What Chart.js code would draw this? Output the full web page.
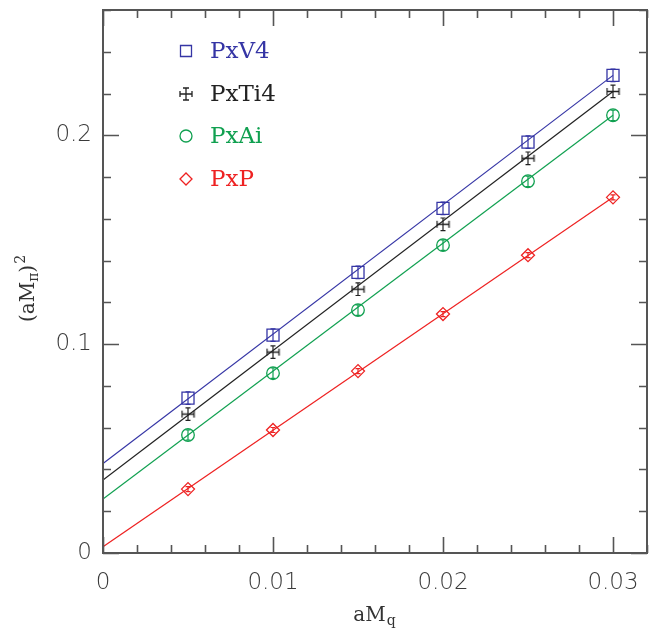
<!DOCTYPE html>
<html>
<head>
<meta charset="utf-8">
<script src="https://cdn.jsdelivr.net/npm/chart.js@4.4.1/dist/chart.umd.min.js"></script>
<style>
  html, body { margin: 0; padding: 0; background: #fff; }
</style>
</head>
<body>
<canvas id="chart" width="652" height="631"></canvas>
<script>
// data
const xValues = [0.005, 0.01, 0.015, 0.02, 0.025, 0.03];
const pxV4 = [0.0742, 0.1043, 0.1344, 0.1650, 0.1967, 0.2287];
const pxTi4 = [0.0665, 0.0962, 0.1263, 0.1574, 0.1890, 0.2210];
const pxAi = [0.0565, 0.0861, 0.1163, 0.1474, 0.1780, 0.2096];
const pxP = [0.0306, 0.0589, 0.0871, 0.1144, 0.1426, 0.1703];
const errV4 = [0.003, 0.003, 0.003, 0.003, 0.003, 0.003];
const errTi4 = [0.003, 0.003, 0.003, 0.003, 0.003, 0.003];
const errAi = [0.0025, 0.0025, 0.0025, 0.0025, 0.0025, 0.0025];
const errP = [0.0012, 0.0012, 0.0012, 0.0012, 0.0012, 0.0012];
// fitted lines: value at x=0 and at x=0.03
const fitX = [0, 0.03];
const fitV4 = [0.0428, 0.2287];
const fitTi4 = [0.0350, 0.2210];
const fitAi = [0.0258, 0.2096];
const fitP = [0.0030, 0.1703];
const seriesNames = ['PxV4', 'PxTi4', 'PxAi', 'PxP'];
const xTicks = [0, 0.01, 0.02, 0.03];
const yTicks = [0, 0.1, 0.2];

const colors = {
    PxV4: '#3535a5',
    PxTi4: '#222222',
    PxAi: '#10a050',
    PxP: '#ee2222'
};

const tickFont = '"DejaVu Sans", sans-serif';
const serifFont = '"DejaVu Serif", serif';

// point style for PxTi4: short horizontal bar with end ticks
function makeTi4Marker() {
    const c = document.createElement('canvas');
    c.width = 15; c.height = 9;
    const g = c.getContext('2d');
    g.strokeStyle = colors.PxTi4;
    g.lineWidth = 1.3;
    g.beginPath();
    g.moveTo(1, 4.5); g.lineTo(14, 4.5);
    g.moveTo(1.5, 1); g.lineTo(1.5, 8);
    g.moveTo(13.5, 1); g.lineTo(13.5, 8);
    g.stroke();
    return c;
}

function pts(ys) {
    return ys.map((y, i) => ({ x: xValues[i], y: y }));
}
function fit(ys) {
    return ys.map((y, i) => ({ x: fitX[i], y: y }));
}

const markerSets = [
    { name: 'PxV4', data: pxV4, err: errV4, style: 'rect', radius: 8.5 },
    { name: 'PxTi4', data: pxTi4, err: errTi4, style: makeTi4Marker(), radius: 7 },
    { name: 'PxAi', data: pxAi, err: errAi, style: 'circle', radius: 6.3 },
    { name: 'PxP', data: pxP, err: errP, style: 'rectRot', radius: 6.5 }
];
const fitSets = [
    { name: 'PxV4', data: fitV4 },
    { name: 'PxTi4', data: fitTi4 },
    { name: 'PxAi', data: fitAi },
    { name: 'PxP', data: fitP }
];

const datasets = [];
fitSets.forEach(s => {
    datasets.push({
        label: s.name + ' fit',
        data: fit(s.data),
        showLine: true,
        borderColor: colors[s.name],
        borderWidth: 1.2,
        pointRadius: 0,
        fill: false
    });
});
markerSets.forEach(s => {
    datasets.push({
        label: s.name,
        data: pts(s.data),
        errors: s.err,
        showLine: false,
        pointStyle: s.style,
        pointRadius: s.radius,
        pointBorderWidth: 1.3,
        borderColor: colors[s.name],
        backgroundColor: 'rgba(0,0,0,0)'
    });
});

// vertical error bars with caps
const errorBarsPlugin = {
    id: 'errorBars',
    afterDatasetsDraw(chart) {
        const ctx = chart.ctx;
        const ys = chart.scales.y;
        chart.data.datasets.forEach((ds, di) => {
            if (!ds.errors) return;
            const meta = chart.getDatasetMeta(di);
            ctx.save();
            ctx.strokeStyle = ds.borderColor;
            ctx.lineWidth = 1.2;
            meta.data.forEach((el, i) => {
                const v = ds.data[i].y;
                const top = ys.getPixelForValue(v + ds.errors[i]);
                const bot = ys.getPixelForValue(v - ds.errors[i]);
                ctx.beginPath();
                ctx.moveTo(el.x, top); ctx.lineTo(el.x, bot);
                ctx.moveTo(el.x - 2.5, top); ctx.lineTo(el.x + 2.5, top);
                ctx.moveTo(el.x - 2.5, bot); ctx.lineTo(el.x + 2.5, bot);
                ctx.stroke();
            });
            ctx.restore();
        });
    }
};

// frame with inward ticks on all four sides
const framePlugin = {
    id: 'frame',
    afterDraw(chart) {
        const ctx = chart.ctx;
        const a = chart.chartArea;
        const xs = chart.scales.x, ys = chart.scales.y;
        ctx.save();
        ctx.strokeStyle = '#555';
        ctx.lineWidth = 1.6;
        ctx.beginPath();
        for (let i = 0; i <= 16; i++) {
            const v = i * 0.002;
            const px = Math.round(xs.getPixelForValue(v)) + 0.5;
            const len = (i % 5 === 0) ? 16 : 8;
            ctx.moveTo(px, a.bottom); ctx.lineTo(px, a.bottom - len);
            ctx.moveTo(px, a.top); ctx.lineTo(px, a.top + len);
        }
        for (let i = 0; i <= 13; i++) {
            const v = i * 0.02;
            const py = Math.round(ys.getPixelForValue(v)) + 0.5;
            const len = (i % 5 === 0) ? 16 : 8;
            ctx.moveTo(a.left, py); ctx.lineTo(a.left + len, py);
            ctx.moveTo(a.right, py); ctx.lineTo(a.right - len, py);
        }
        ctx.stroke();
        ctx.lineWidth = 2;
        ctx.strokeRect(a.left, a.top, a.right - a.left, a.bottom - a.top);
        ctx.restore();
    }
};

// legend inside the plot, plus axis titles with sub/superscripts
const labelsPlugin = {
    id: 'labels',
    afterDraw(chart) {
        const ctx = chart.ctx;
        ctx.save();
        // legend
        const rows = [51, 94, 136, 179];
        const mx = 186, tx = 210;
        ctx.font = '23px ' + serifFont;
        ctx.textBaseline = 'middle';
        seriesNames.forEach((name, i) => {
            const y = rows[i];
            ctx.strokeStyle = colors[name];
            ctx.fillStyle = colors[name];
            ctx.lineWidth = 1.3;
            ctx.beginPath();
            if (name === 'PxV4') {
                ctx.rect(mx - 5.5, y - 5.5, 11, 11);
            } else if (name === 'PxTi4') {
                ctx.moveTo(mx - 6, y); ctx.lineTo(mx + 6, y);
                ctx.moveTo(mx, y - 6); ctx.lineTo(mx, y + 6);
                ctx.moveTo(mx - 6, y - 3); ctx.lineTo(mx - 6, y + 3);
                ctx.moveTo(mx + 6, y - 3); ctx.lineTo(mx + 6, y + 3);
                ctx.moveTo(mx - 3, y - 6); ctx.lineTo(mx + 3, y - 6);
                ctx.moveTo(mx - 3, y + 6); ctx.lineTo(mx + 3, y + 6);
            } else if (name === 'PxAi') {
                ctx.arc(mx, y, 6, 0, Math.PI * 2);
            } else {
                ctx.moveTo(mx - 6, y); ctx.lineTo(mx, y - 6);
                ctx.lineTo(mx + 6, y); ctx.lineTo(mx, y + 6); ctx.closePath();
            }
            ctx.stroke();
            ctx.textAlign = 'left';
            ctx.fillText(name, tx, y + 1);
        });

        // x title: aM_q
        ctx.fillStyle = '#333';
        ctx.textBaseline = 'alphabetic';
        ctx.textAlign = 'left';
        const big = '20px ' + serifFont;
        const small = '14px ' + serifFont;
        ctx.font = big;
        const wM = ctx.measureText('aM').width;
        ctx.font = small;
        const wq = ctx.measureText('q').width;
        let x0 = 374 - (wM + wq) / 2;
        ctx.font = big;
        ctx.fillText('aM', x0, 621);
        ctx.font = small;
        ctx.fillText('q', x0 + wM + 1, 625);

        // y title: (aM_pi)^2, rotated
        ctx.translate(34, 288);
        ctx.rotate(-Math.PI / 2);
        ctx.font = big;
        const w1 = ctx.measureText('(aM').width;
        const w3 = ctx.measureText(')').width;
        ctx.font = small;
        const w2 = ctx.measureText('\u03c0').width;
        const w4 = ctx.measureText('2').width;
        let p = -(w1 + w2 + w3 + w4 + 2) / 2;
        ctx.font = big;
        ctx.fillText('(aM', p, 0); p += w1;
        ctx.font = small;
        ctx.fillText('\u03c0', p, 4); p += w2;
        ctx.font = big;
        ctx.fillText(')', p, 0); p += w3 + 1;
        ctx.font = small;
        ctx.fillText('2', p, -9);
        ctx.restore();
    }
};

function noPad(scale) {
    scale.paddingTop = 0;
    scale.paddingBottom = 0;
    scale.paddingLeft = 0;
    scale.paddingRight = 0;
}

new Chart(document.getElementById('chart').getContext('2d'), {
    type: 'scatter',
    data: { datasets: datasets },
    options: {
        responsive: false,
        animation: false,
        devicePixelRatio: 1,
        layout: { autoPadding: false, padding: { top: 10, right: 5, left: 0, bottom: 0 } },
        scales: {
            x: {
                type: 'linear',
                min: 0,
                max: 0.032,
                afterBuildTicks: scale => { scale.ticks = xTicks.map(v => ({ value: v })); },
                afterFit: scale => { scale.height = 78; noPad(scale); },
                grid: { display: false, drawTicks: false },
                border: { display: false },
                ticks: {
                    padding: 16,
                    color: '#3a3a3a',
                    maxRotation: 0,
                    font: { family: tickFont, size: 23, weight: 200 },
                    callback: v => v === 0 ? '0' : v.toFixed(2)
                }
            },
            y: {
                type: 'linear',
                min: 0,
                max: 0.26,
                afterBuildTicks: scale => { scale.ticks = yTicks.map(v => ({ value: v })); },
                afterFit: scale => { scale.width = 103; noPad(scale); },
                grid: { display: false, drawTicks: false },
                border: { display: false },
                ticks: {
                    padding: 11,
                    color: '#3a3a3a',
                    font: { family: tickFont, size: 23, weight: 200 },
                    callback: v => v === 0 ? '0' : v.toFixed(1)
                }
            }
        },
        plugins: {
            legend: { display: false },
            tooltip: { enabled: false },
            title: { display: false }
        }
    },
    plugins: [errorBarsPlugin, framePlugin, labelsPlugin]
});
</script>
</body>
</html>
